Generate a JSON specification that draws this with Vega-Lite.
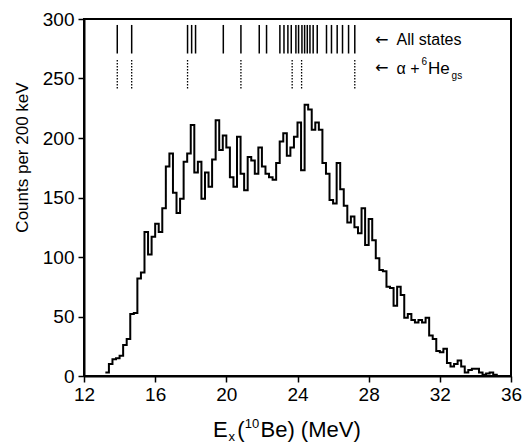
{
  "$schema": "https://vega.github.io/schema/vega-lite/v6.json",
  "width": 427,
  "height": 357,
  "autosize": {"type": "none"},
  "padding": {"left": 84, "top": 19, "right": 13, "bottom": 67},
  "background": "white",
  "config": {
    "font": "Liberation Sans",
    "view": {"stroke": "black", "strokeWidth": 2},
    "axis": {"grid": false, "domainColor": "black", "domainWidth": 2, "tickColor": "black", "tickWidth": 1.5, "labelColor": "black", "titleColor": "black", "labelFont": "Liberation Sans", "titleFont": "Liberation Sans", "titleFontWeight": "normal"}
  },
  "data": {"values": [{}]},
  "datasets": {
    "hist": [
      {"E": 13.2, "n": 3}, {"E": 13.4, "n": 10}, {"E": 13.6, "n": 14}, {"E": 13.8, "n": 15}, {"E": 14.0, "n": 17},
      {"E": 14.2, "n": 26}, {"E": 14.4, "n": 31}, {"E": 14.6, "n": 52}, {"E": 14.8, "n": 53}, {"E": 15.0, "n": 82},
      {"E": 15.2, "n": 87}, {"E": 15.4, "n": 121}, {"E": 15.6, "n": 102}, {"E": 15.8, "n": 117}, {"E": 16.0, "n": 128},
      {"E": 16.2, "n": 121}, {"E": 16.4, "n": 141}, {"E": 16.6, "n": 176}, {"E": 16.8, "n": 187}, {"E": 17.0, "n": 154},
      {"E": 17.2, "n": 137}, {"E": 17.4, "n": 149}, {"E": 17.6, "n": 180}, {"E": 17.8, "n": 187}, {"E": 18.0, "n": 211},
      {"E": 18.2, "n": 171}, {"E": 18.4, "n": 180}, {"E": 18.6, "n": 149}, {"E": 18.8, "n": 171}, {"E": 19.0, "n": 159},
      {"E": 19.2, "n": 182}, {"E": 19.4, "n": 215}, {"E": 19.6, "n": 190}, {"E": 19.8, "n": 202}, {"E": 20.0, "n": 192},
      {"E": 20.2, "n": 167}, {"E": 20.4, "n": 159}, {"E": 20.6, "n": 201}, {"E": 20.8, "n": 170}, {"E": 21.0, "n": 156},
      {"E": 21.2, "n": 184}, {"E": 21.4, "n": 181}, {"E": 21.6, "n": 170}, {"E": 21.8, "n": 192}, {"E": 22.0, "n": 176},
      {"E": 22.2, "n": 170}, {"E": 22.4, "n": 167}, {"E": 22.6, "n": 165}, {"E": 22.8, "n": 179}, {"E": 23.0, "n": 197},
      {"E": 23.2, "n": 204}, {"E": 23.4, "n": 185}, {"E": 23.6, "n": 192}, {"E": 23.8, "n": 201}, {"E": 24.0, "n": 213},
      {"E": 24.2, "n": 173}, {"E": 24.4, "n": 228}, {"E": 24.6, "n": 224}, {"E": 24.8, "n": 207}, {"E": 25.0, "n": 213},
      {"E": 25.2, "n": 207}, {"E": 25.4, "n": 179}, {"E": 25.6, "n": 170}, {"E": 25.8, "n": 148}, {"E": 26.0, "n": 145},
      {"E": 26.2, "n": 179}, {"E": 26.4, "n": 157}, {"E": 26.6, "n": 143}, {"E": 26.8, "n": 129}, {"E": 27.0, "n": 134},
      {"E": 27.2, "n": 125}, {"E": 27.4, "n": 120}, {"E": 27.6, "n": 141}, {"E": 27.8, "n": 110}, {"E": 28.0, "n": 132},
      {"E": 28.2, "n": 114}, {"E": 28.4, "n": 99}, {"E": 28.6, "n": 89}, {"E": 28.8, "n": 88}, {"E": 29.0, "n": 75},
      {"E": 29.2, "n": 74}, {"E": 29.4, "n": 59}, {"E": 29.6, "n": 75}, {"E": 29.8, "n": 68}, {"E": 30.0, "n": 49},
      {"E": 30.2, "n": 52}, {"E": 30.4, "n": 47}, {"E": 30.6, "n": 45}, {"E": 30.8, "n": 47}, {"E": 31.0, "n": 45},
      {"E": 31.2, "n": 49}, {"E": 31.4, "n": 34}, {"E": 31.6, "n": 31}, {"E": 31.8, "n": 21}, {"E": 32.0, "n": 20},
      {"E": 32.2, "n": 23}, {"E": 32.4, "n": 11}, {"E": 32.6, "n": 8}, {"E": 32.8, "n": 10}, {"E": 33.0, "n": 13},
      {"E": 33.2, "n": 8}, {"E": 33.4, "n": 3}, {"E": 33.6, "n": 5}, {"E": 33.8, "n": 6}, {"E": 34.0, "n": 6},
      {"E": 34.2, "n": 3}, {"E": 34.4, "n": 1}, {"E": 34.6, "n": 2}, {"E": 34.8, "n": 3}, {"E": 35.0, "n": 1},
      {"E": 35.2, "n": 0}
    ],
    "states": [
      {"E": 13.87}, {"E": 14.68}, {"E": 17.82}, {"E": 18.05}, {"E": 18.27}, {"E": 19.83}, {"E": 20.82},
      {"E": 21.85}, {"E": 22.26}, {"E": 23.01}, {"E": 23.24}, {"E": 23.46}, {"E": 23.65}, {"E": 23.91},
      {"E": 24.06}, {"E": 24.25}, {"E": 24.40}, {"E": 24.55}, {"E": 24.70}, {"E": 24.88}, {"E": 25.11},
      {"E": 25.63}, {"E": 25.91}, {"E": 26.23}, {"E": 26.53}, {"E": 26.87}, {"E": 27.22}
    ],
    "alpha": [
      {"E": 13.87}, {"E": 14.68}, {"E": 17.82}, {"E": 20.82}, {"E": 23.70}, {"E": 24.23}, {"E": 27.22}
    ]
  },
  "layer": [
    {
      "data": {"name": "hist"},
      "mark": {"type": "line", "interpolate": "step-after", "color": "black", "strokeWidth": 2},
      "encoding": {
        "x": {
          "field": "E", "type": "quantitative",
          "scale": {"domain": [12, 36], "nice": false, "zero": false},
          "axis": {
            "values": [12, 14, 16, 18, 20, 22, 24, 26, 28, 30, 32, 34, 36],
            "labelExpr": "datum.value % 4 === 0 ? datum.label : ''",
            "tickSize": {"condition": {"test": "datum.value % 4 === 0", "value": 6}, "value": 3},
            "labelFontSize": 19, "labelPadding": 3, "labelFlush": false,
            "title": null
          }
        },
        "y": {
          "field": "n", "type": "quantitative",
          "scale": {"domain": [0, 300], "nice": false},
          "axis": {
            "values": [0, 25, 50, 75, 100, 125, 150, 175, 200, 225, 250, 275, 300],
            "labelExpr": "datum.value % 50 === 0 ? datum.label : ''",
            "tickSize": {"condition": {"test": "datum.value % 50 === 0", "value": 6}, "value": 3},
            "labelFontSize": 19, "labelPadding": 4, "labelFlush": false,
            "title": "Counts per 200 keV", "titleFontSize": 17,
            "titleX": -62, "titleY": 138, "titleAngle": -90, "titleAlign": "center", "titleBaseline": "middle"
          }
        }
      }
    },
    {
      "data": {"name": "states"},
      "mark": {"type": "rule", "color": "black", "strokeWidth": 1.5},
      "encoding": {
        "x": {"field": "E", "type": "quantitative"},
        "y": {"datum": 271, "type": "quantitative"},
        "y2": {"datum": 295}
      }
    },
    {
      "data": {"name": "alpha"},
      "mark": {"type": "rule", "color": "black", "strokeWidth": 1.3, "strokeDash": [1.5, 1.5]},
      "encoding": {
        "x": {"field": "E", "type": "quantitative"},
        "y": {"datum": 241.5, "type": "quantitative"},
        "y2": {"datum": 265.5}
      }
    },
    {
      "mark": {"type": "text", "text": "←", "font": "DejaVu Sans", "align": "left", "baseline": "alphabetic", "fontSize": 16, "color": "black"},
      "encoding": {"x": {"datum": 28.35, "type": "quantitative"}, "y": {"datum": 278.5, "type": "quantitative"}}
    },
    {
      "mark": {"type": "text", "text": "All states", "align": "left", "baseline": "alphabetic", "fontSize": 16, "color": "black"},
      "encoding": {"x": {"datum": 29.57, "type": "quantitative"}, "y": {"datum": 278, "type": "quantitative"}}
    },
    {
      "mark": {"type": "text", "text": "←", "font": "DejaVu Sans", "align": "left", "baseline": "alphabetic", "fontSize": 16, "color": "black"},
      "encoding": {"x": {"datum": 28.35, "type": "quantitative"}, "y": {"datum": 254.5, "type": "quantitative"}}
    },
    {
      "mark": {"type": "text", "text": "α +", "align": "left", "baseline": "alphabetic", "fontSize": 16, "color": "black"},
      "encoding": {"x": {"datum": 29.57, "type": "quantitative"}, "y": {"datum": 254, "type": "quantitative"}}
    },
    {
      "mark": {"type": "text", "text": "6", "align": "left", "baseline": "alphabetic", "fontSize": 10, "color": "black"},
      "encoding": {"x": {"datum": 30.97, "type": "quantitative"}, "y": {"datum": 261, "type": "quantitative"}}
    },
    {
      "mark": {"type": "text", "text": "He", "align": "left", "baseline": "alphabetic", "fontSize": 17, "color": "black"},
      "encoding": {"x": {"datum": 31.33, "type": "quantitative"}, "y": {"datum": 254, "type": "quantitative"}}
    },
    {
      "mark": {"type": "text", "text": "gs", "align": "left", "baseline": "alphabetic", "fontSize": 10, "color": "black"},
      "encoding": {"x": {"datum": 32.66, "type": "quantitative"}, "y": {"datum": 249.5, "type": "quantitative"}}
    },
    {
      "mark": {"type": "text", "text": "E", "align": "left", "baseline": "alphabetic", "fontSize": 22, "color": "black"},
      "encoding": {"x": {"datum": 19.25, "type": "quantitative"}, "y": {"datum": -51.5, "type": "quantitative"}}
    },
    {
      "mark": {"type": "text", "text": "x", "align": "left", "baseline": "alphabetic", "fontSize": 13, "color": "black"},
      "encoding": {"x": {"datum": 20.12, "type": "quantitative"}, "y": {"datum": -55, "type": "quantitative"}}
    },
    {
      "mark": {"type": "text", "text": "(", "align": "left", "baseline": "alphabetic", "fontSize": 22, "color": "black"},
      "encoding": {"x": {"datum": 20.62, "type": "quantitative"}, "y": {"datum": -51.5, "type": "quantitative"}}
    },
    {
      "mark": {"type": "text", "text": "10", "align": "left", "baseline": "alphabetic", "fontSize": 13, "color": "black"},
      "encoding": {"x": {"datum": 21.04, "type": "quantitative"}, "y": {"datum": -44, "type": "quantitative"}}
    },
    {
      "mark": {"type": "text", "text": "Be) (MeV)", "align": "left", "baseline": "alphabetic", "fontSize": 22, "color": "black"},
      "encoding": {"x": {"datum": 21.92, "type": "quantitative"}, "y": {"datum": -51.5, "type": "quantitative"}}
    }
  ]
}
